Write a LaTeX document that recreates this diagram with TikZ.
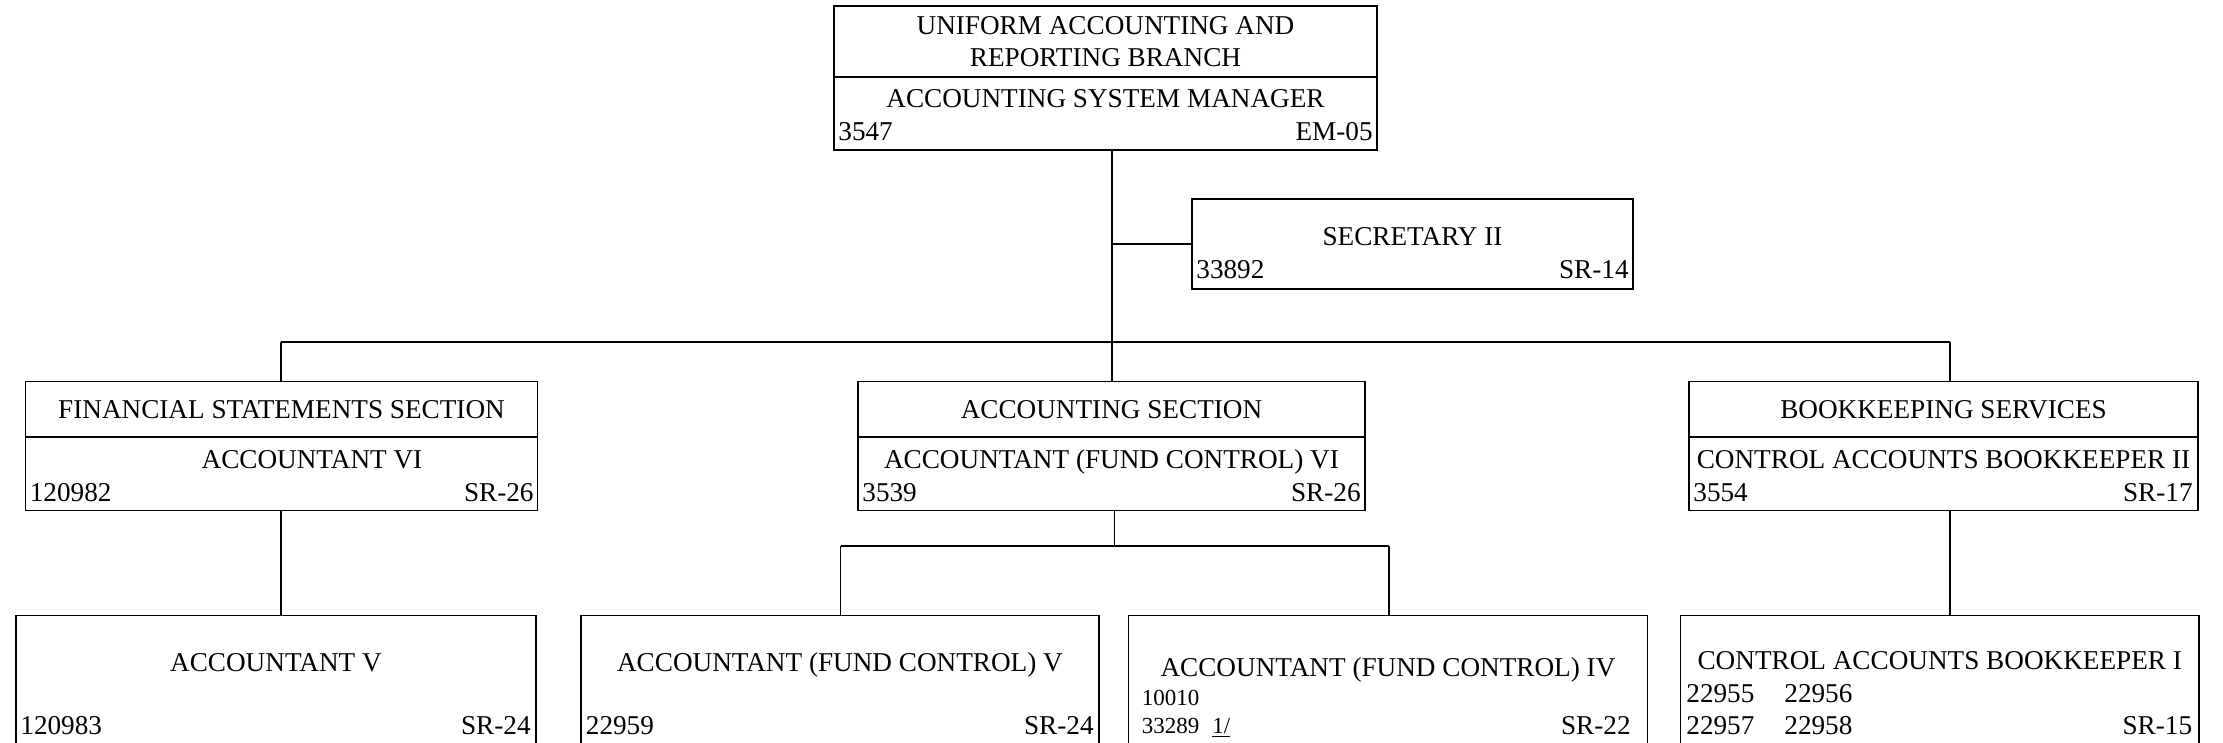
\documentclass[tikz,border=0pt]{standalone}
\usepackage{fontspec}
\setmainfont{Liberation Serif}
\begin{document}
\begin{tikzpicture}[x=0.5pt,y=-0.5pt,
  box/.style={draw, rectangle, line width=0.9pt, inner sep=0pt},
  link/.style={line width=0.8pt},
  lbl/.style={inner sep=0pt, font=\fontsize{13.6}{16}\selectfont},
  ttl/.style={lbl, anchor=base},
  lft/.style={lbl, anchor=base west},
  rgt/.style={lbl, anchor=base east},
  sml/.style={inner sep=0pt, anchor=base west, font=\fontsize{11.5}{14}\selectfont}]
\clip (0,0) rectangle (2223,743);
\fill[white] (0,0) rectangle (2223,743);

% ---- boxes ----
\node[box, minimum width=271.5pt, minimum height=72pt]   (top)  at (1105.5,78) {};
\node[box, minimum width=220.5pt, minimum height=45pt]   (sec)  at (1412.5,244) {};
\node[box, minimum width=256pt,   minimum height=64.5pt] (fs)   at (281.5,446) {};
\node[box, minimum width=253.5pt, minimum height=64.5pt] (as)   at (1111.5,446) {};
\node[box, minimum width=254.5pt, minimum height=64.5pt] (bs)   at (1943.5,446) {};
\node[box, minimum width=260pt,   minimum height=92.25pt] (av)   at (276,707.75) {};
\node[box, minimum width=259pt,   minimum height=92.25pt] (afv)  at (840,707.75) {};
\node[box, minimum width=259.5pt, minimum height=92.25pt] (afiv) at (1388,707.75) {};
\node[box, minimum width=259.25pt,minimum height=92.25pt] (cab)  at (1939.75,707.75) {};

% ---- dividers ----
\coordinate (topdiv) at (0,77);
\coordinate (rowdiv) at (0,437);
\draw[link] (top.west |- topdiv) -- (top.east |- topdiv);
\draw[link] (fs.west |- rowdiv) -- (fs.east |- rowdiv);
\draw[link] (as.west |- rowdiv) -- (as.east |- rowdiv);
\draw[link] (bs.west |- rowdiv) -- (bs.east |- rowdiv);

% ---- connectors ----
\coordinate (busL) at (281,342);
\coordinate (busC) at (1112,342);
\coordinate (busR) at (1950,342);
\coordinate (secjoin) at (1112,244);
\coordinate (subL) at (840.5,546);
\coordinate (subC) at (1114.5,546);
\coordinate (subR) at (1389,546);
\draw[link] (top.south -| busC) -- (busC);
\draw[link] (secjoin) -- (sec.west);
\draw[link] (busL) -- (busR);
\draw[link] (busL) -- (fs.north -| busL);
\draw[link] (busC) -- (as.north -| busC);
\draw[link] (busR) -- (bs.north -| busR);
\draw[link] (fs.south -| busL) -- (av.north -| busL);
\draw[link] (as.south -| subC) -- (subC);
\draw[link] (subL) -- (subR);
\draw[link] (subL) -- (afv.north -| subL);
\draw[link] (subR) -- (afiv.north -| subR);
\draw[link] (bs.south -| busR) -- (cab.north -| busR);

% ---- texts: branch ----
\node[ttl] (t1) at (1105.5,34.5) {UNIFORM ACCOUNTING AND};
\node[ttl] (t2) at (1105.5,67) {REPORTING BRANCH};
\node[ttl] (t3) at (1105.5,108) {ACCOUNTING SYSTEM MANAGER};
\node[lft] (t4) at (838,141) {3547};
\node[rgt] (t5) at (1373,141) {EM-05};

% ---- secretary ----
\node[ttl] (s1) at (1412.5,246) {SECRETARY II};
\node[lft] (s2) at (1196,278.5) {33892};
\node[rgt] (s3) at (1629,278.5) {SR-14};

% ---- sections ----
\node[ttl] (f1) at (281.5,418.7) {FINANCIAL STATEMENTS SECTION};
\node[ttl] (f2) at (312,468.3) {ACCOUNTANT VI};
\node[lft] (f3) at (29.5,501) {120982};
\node[rgt] (f4) at (534,501) {SR-26};

\node[ttl] (a1) at (1111.5,418.7) {ACCOUNTING SECTION};
\node[ttl] (a2) at (1111.5,468.3) {ACCOUNTANT (FUND CONTROL) VI};
\node[lft] (a3) at (862,501) {3539};
\node[rgt] (a4) at (1361,501) {SR-26};

\node[ttl] (b1) at (1943.5,418.7) {BOOKKEEPING SERVICES};
\node[ttl] (b2) at (1943.5,468.3) {CONTROL ACCOUNTS BOOKKEEPER II};
\node[lft] (b3) at (1693,501) {3554};
\node[rgt] (b4) at (2193,501) {SR-17};

% ---- bottom row ----
\node[ttl] (v1) at (276,671) {ACCOUNTANT V};
\node[lft] (v2) at (20,734) {120983};
\node[rgt] (v3) at (531,734) {SR-24};

\node[ttl] (w1) at (840,671) {ACCOUNTANT (FUND CONTROL) V};
\node[lft] (w2) at (585.5,734) {22959};
\node[rgt] (w3) at (1094,734) {SR-24};

\node[ttl] (x1) at (1388,676.5) {ACCOUNTANT (FUND CONTROL) IV};
\node[sml] (x2) at (1141.5,705) {10010};
\node[sml] (x3) at (1141.5,733) {33289};
\node[sml] (x4) at (1212,733) {\underline{1/}};
\node[rgt] (x5) at (1631,734) {SR-22};

\node[ttl] (y1) at (1939.75,669.5) {CONTROL ACCOUNTS BOOKKEEPER I};
\node[lft] (y2) at (1686,702.5) {22955};
\node[lft] (y3) at (1784,702.5) {22956};
\node[lft] (y4) at (1686,734) {22957};
\node[lft] (y5) at (1784,734) {22958};
\node[rgt] (y6) at (2192.5,734) {SR-15};
\end{tikzpicture}
\end{document}
